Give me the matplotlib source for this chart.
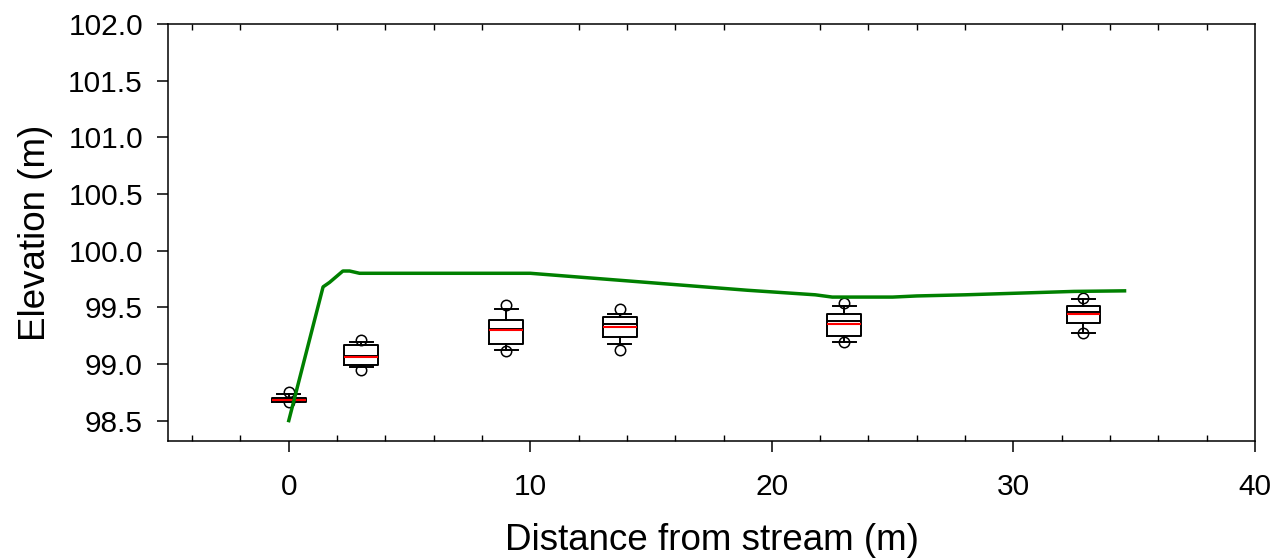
import matplotlib

matplotlib.use("Agg")

import matplotlib.pyplot as plt
from matplotlib.ticker import MultipleLocator

plt.rcParams["font.family"] = ["Liberation Sans", "DejaVu Sans"]

# box plot summaries (elevation, m) at each distance from stream
positions = [0, 3, 9, 13.7, 23, 32.9]
q1 = [98.668, 98.993, 99.177, 99.241, 99.250, 99.359]
q3 = [98.703, 99.163, 99.388, 99.417, 99.441, 99.515]
medians = [98.686, 99.066, 99.305, 99.350, 99.382, 99.456]
means = [98.683, 99.064, 99.300, 99.324, 99.353, 99.439]
whisk_lo = [98.668, 98.970, 99.120, 99.174, 99.197, 99.276]
whisk_hi = [98.735, 99.190, 99.483, 99.441, 99.512, 99.571]
flier_lo = [98.662, 98.950, 99.117, 99.124, 99.190, 99.270]
flier_hi = [98.756, 99.210, 99.520, 99.485, 99.536, 99.580]

# ground surface profile
profile_x = [0, 1.42, 1.69, 2.24, 2.52, 2.93, 10.0, 13.0, 16.0, 19.0, 21.8, 22.5, 25.0, 26.0, 28.0, 31.0, 32.5, 34.6]
profile_y = [98.50, 99.68, 99.72, 99.82, 99.82, 99.80, 99.80, 99.75, 99.70, 99.65, 99.61, 99.59, 99.59, 99.60, 99.61, 99.63, 99.64, 99.645]

stats = []
for i in range(len(positions)):
    stats.append(
        {
            "med": medians[i],
            "q1": q1[i],
            "q3": q3[i],
            "whislo": whisk_lo[i],
            "whishi": whisk_hi[i],
            "mean": means[i],
            "fliers": [flier_lo[i], flier_hi[i]],
        }
    )

fig = plt.figure(figsize=(12.8, 5.58), dpi=100)
ax = fig.add_axes([0.13125, 0.2097, 0.8492, 0.7473])

ax.bxp(
    stats,
    positions=positions,
    widths=1.4,
    capwidths=0.95,
    showmeans=True,
    meanline=True,
    showfliers=True,
    manage_ticks=False,
    boxprops=dict(color="black", linewidth=1.4),
    whiskerprops=dict(color="black", linewidth=1.4),
    capprops=dict(color="black", linewidth=1.4),
    medianprops=dict(color="black", linewidth=1.4),
    meanprops=dict(color="#ff0000", linewidth=1.5, linestyle="-"),
    flierprops=dict(marker="o", markerfacecolor="none", markeredgecolor="black", markersize=7.5, markeredgewidth=1.1),
)

ax.plot(profile_x, profile_y, color="#008000", linewidth=2.5, zorder=5)

ax.set_xlim(-5, 40)
ax.set_ylim(98.32, 102.0)
ax.xaxis.set_major_locator(MultipleLocator(10))
ax.xaxis.set_minor_locator(MultipleLocator(2))
ax.yaxis.set_major_locator(MultipleLocator(0.5))
ax.yaxis.set_major_formatter(plt.FormatStrFormatter("%.1f"))

ax.tick_params(axis="x", which="major", direction="out", length=8, width=1.1, pad=15, labelsize=21.5)
ax.tick_params(axis="x", which="minor", direction="in", length=4.5, width=1.0, top=True)
ax.tick_params(axis="y", which="major", direction="out", length=8, width=1.1, pad=10, labelsize=21.5)

for spine in ax.spines.values():
    spine.set_linewidth(1.1)

ax.set_xlabel("Distance from stream (m)", fontsize=26.5, labelpad=16)
ax.set_ylabel("Elevation (m)", fontsize=26.5, labelpad=11)

fig.savefig("out.png", dpi=100)
